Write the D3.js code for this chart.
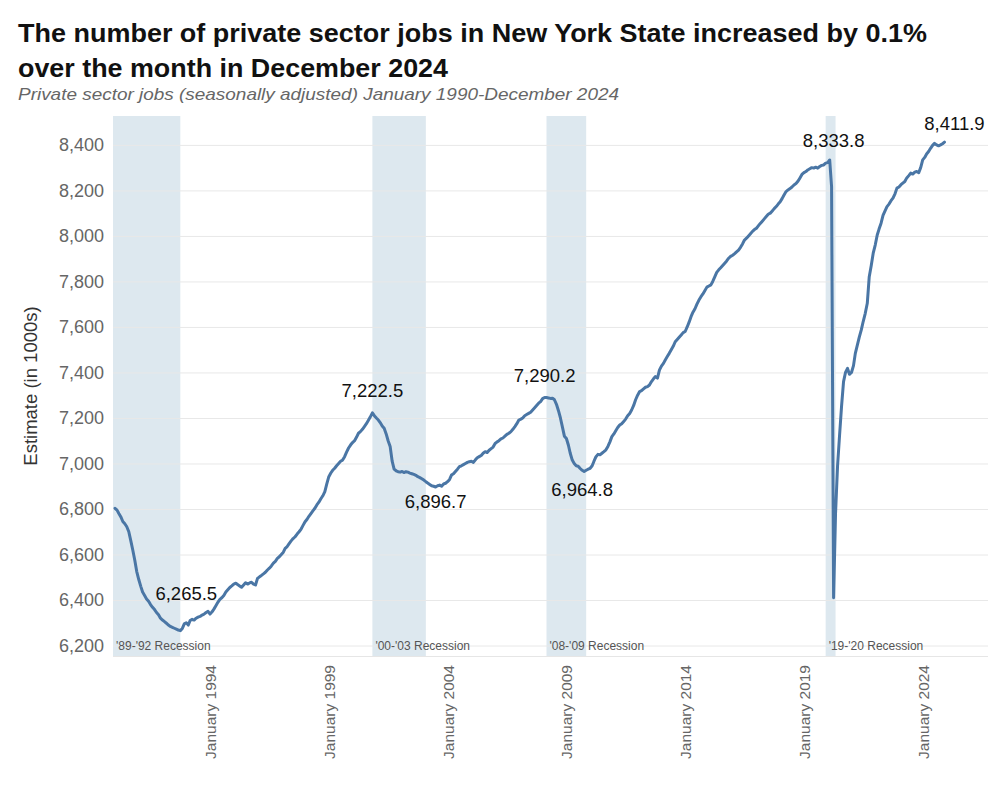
<!DOCTYPE html>
<html>
<head>
<meta charset="utf-8">
<script src="https://cdn.jsdelivr.net/npm/d3@7"></script>
<style>
  body { margin: 0; background: #fff; }
  svg { font-family: Arial, "Liberation Sans", sans-serif; }
</style>
</head>
<body>
<svg id="chart" width="1000" height="800"></svg>
<script>
// Monthly private sector jobs (thousands), Jan..Dec of each year
const y1990 = [6803, 6795, 6780, 6765, 6745, 6735, 6722, 6700, 6660, 6620, 6575, 6525];
const y1991 = [6490, 6460, 6435, 6420, 6405, 6395, 6380, 6368, 6358, 6345, 6335, 6320];
const y1992 = [6312, 6305, 6298, 6290, 6284, 6280, 6276, 6272, 6268, 6265.5, 6275, 6295];
const y1993 = [6300, 6290, 6310, 6315, 6312, 6320, 6325, 6328, 6334, 6338, 6345, 6350];
const y1994 = [6338, 6348, 6360, 6375, 6390, 6403, 6410, 6420, 6435, 6445, 6455, 6462];
const y1995 = [6470, 6474, 6468, 6462, 6456, 6466, 6476, 6470, 6475, 6478, 6470, 6466];
const y1996 = [6495, 6502, 6508, 6515, 6522, 6532, 6540, 6550, 6562, 6570, 6583, 6590];
const y1997 = [6600, 6610, 6627, 6635, 6648, 6660, 6670, 6678, 6690, 6700, 6712, 6728];
const y1998 = [6744, 6755, 6768, 6780, 6792, 6803, 6818, 6830, 6845, 6858, 6876, 6910];
const y1999 = [6942, 6958, 6970, 6979, 6990, 7000, 7010, 7015, 7030, 7050, 7068, 7081];
const y2000 = [7092, 7100, 7115, 7133, 7140, 7150, 7162, 7175, 7190, 7205, 7222.5, 7210];
const y2001 = [7200, 7191, 7180, 7165, 7155, 7130, 7100, 7075, 7010, 6975, 6968, 6964];
const y2002 = [6962, 6965, 6960, 6964, 6962, 6958, 6955, 6952, 6948, 6942, 6938, 6933];
const y2003 = [6927, 6920, 6914, 6908, 6902, 6900, 6896.7, 6902, 6905, 6900, 6910, 6913];
const y2004 = [6920, 6930, 6949, 6955, 6965, 6975, 6986, 6990, 6995, 7000, 7005, 7008];
const y2005 = [7010, 7005, 7015, 7025, 7030, 7035, 7045, 7052, 7048, 7058, 7065, 7072];
const y2006 = [7088, 7095, 7100, 7108, 7112, 7120, 7128, 7133, 7140, 7150, 7162, 7175];
const y2007 = [7191, 7195, 7200, 7210, 7215, 7220, 7225, 7235, 7245, 7255, 7265, 7272];
const y2008 = [7285, 7290.2, 7290, 7288, 7286, 7287, 7280, 7260, 7232, 7200, 7160, 7120];
const y2009 = [7110, 7080, 7045, 7015, 7000, 6990, 6988, 6978, 6970, 6964.8, 6970, 6975];
const y2010 = [6979, 6990, 7010, 7030, 7040, 7038, 7045, 7052, 7060, 7075, 7095, 7118];
const y2011 = [7130, 7145, 7158, 7169, 7175, 7185, 7195, 7210, 7220, 7235, 7255, 7280];
const y2012 = [7300, 7316, 7320, 7328, 7335, 7338, 7345, 7360, 7372, 7382, 7375, 7410];
const y2013 = [7428, 7440, 7455, 7470, 7484, 7500, 7515, 7535, 7545, 7555, 7565, 7575];
const y2014 = [7580, 7600, 7620, 7645, 7665, 7680, 7700, 7718, 7733, 7745, 7760, 7775];
const y2015 = [7780, 7785, 7800, 7820, 7840, 7851, 7860, 7870, 7880, 7890, 7902, 7910];
const y2016 = [7915, 7922, 7930, 7938, 7950, 7965, 7982, 7990, 8000, 8010, 8020, 8028];
const y2017 = [8034, 8045, 8055, 8065, 8075, 8085, 8095, 8100, 8110, 8120, 8129, 8140];
const y2018 = [8150, 8165, 8180, 8195, 8202, 8208, 8215, 8224, 8230, 8240, 8255, 8270];
const y2019 = [8278, 8283, 8290, 8295, 8300, 8298, 8302, 8298, 8305, 8310, 8312, 8320];
const y2020 = [8322, 8333.8, 8217, 6410, 6780, 6990, 7120, 7250, 7360, 7400, 7418, 7392];
const y2021 = [7400, 7430, 7484, 7520, 7555, 7587, 7625, 7660, 7704, 7821, 7870, 7924];
const y2022 = [7960, 8004, 8030, 8056, 8090, 8110, 8129, 8140, 8155, 8166, 8185, 8210];
const y2023 = [8215, 8225, 8232, 8239, 8255, 8265, 8276, 8272, 8280, 8283, 8278, 8300];
const y2024 = [8334, 8345, 8360, 8371, 8385, 8398, 8407, 8400, 8396, 8400, 8405, 8411.9];

const yearlySeries = [y1990, y1991, y1992, y1993, y1994, y1995, y1996, y1997, y1998, y1999,
  y2000, y2001, y2002, y2003, y2004, y2005, y2006, y2007, y2008, y2009,
  y2010, y2011, y2012, y2013, y2014, y2015, y2016, y2017, y2018, y2019,
  y2020, y2021, y2022, y2023, y2024];
const firstYear = 1990;

const recessionLabels = ["'89-'92 Recession", "'00-'03 Recession", "'08-'09 Recession", "'19-'20 Recession"];
const recessionStarts = ["1989-12", "2000-11", "2008-03", "2019-12"];
const recessionEnds   = ["1992-10", "2003-02", "2009-11", "2020-05"];

const annotDates  = ["1992-10", "2000-11", "2003-07", "2008-02", "2009-10", "2020-02", "2024-12"];
const annotValues = [6265.5, 7222.5, 6896.7, 7290.2, 6964.8, 8333.8, 8411.9];

const xTickYears = [1994, 1999, 2004, 2009, 2014, 2019, 2024];
const yTicks = [6200, 6400, 6600, 6800, 7000, 7200, 7400, 7600, 7800, 8000, 8200, 8400];

// ---- build data
const parseMonth = d3.timeParse("%Y-%m");
const data = [];
yearlySeries.forEach((arr, i) => {
  arr.forEach((v, m) => data.push({ date: new Date(firstYear + i, m, 1), value: v }));
});

const svg = d3.select("#chart");
const plot = { left: 113, right: 988, top: 116, bottom: 656 };

const x = d3.scaleTime()
  .domain([new Date(1989, 11, 1), new Date(2026, 9, 1)])
  .range([plot.left, plot.right]);
const y = d3.scaleLinear()
  .domain([6154, 8527])
  .range([plot.bottom, plot.top]);

// title
svg.append("text").attr("x", 18).attr("y", 42)
  .attr("font-size", 26).attr("font-weight", "bold").attr("fill", "#111")
  .attr("textLength", 909).attr("lengthAdjust", "spacingAndGlyphs")
  .text("The number of private sector jobs in New York State increased by 0.1%");
svg.append("text").attr("x", 18).attr("y", 77)
  .attr("font-size", 26).attr("font-weight", "bold").attr("fill", "#111")
  .attr("textLength", 430).attr("lengthAdjust", "spacingAndGlyphs")
  .text("over the month in December 2024");
svg.append("text").attr("x", 18).attr("y", 100)
  .attr("font-size", 17).attr("font-style", "italic").attr("fill", "#666")
  .attr("textLength", 601).attr("lengthAdjust", "spacingAndGlyphs")
  .text("Private sector jobs (seasonally adjusted) January 1990-December 2024");

// recession bands
const bands = svg.append("g");
recessionStarts.forEach((s, i) => {
  const x0 = Math.max(plot.left, x(parseMonth(s)));
  const x1 = x(parseMonth(recessionEnds[i]));
  bands.append("rect")
    .attr("x", x0).attr("y", plot.top)
    .attr("width", x1 - x0).attr("height", plot.bottom - plot.top)
    .attr("fill", "#dde8ef");
});

// gridlines
const yAxis = d3.axisLeft(y).tickValues(yTicks)
  .tickFormat(d3.format(",")).tickSize(-(plot.right - plot.left)).tickPadding(9);
const gy = svg.append("g").attr("transform", `translate(${plot.left},0)`).call(yAxis);
gy.select(".domain").remove();
gy.selectAll(".tick line").attr("stroke", "#e8e8e8").attr("stroke-width", 1);
gy.selectAll(".tick text").attr("font-size", 18).attr("fill", "#666")
  .attr("font-family", "Arial, 'Liberation Sans', sans-serif");

// bottom border line
svg.append("line").attr("x1", plot.left).attr("x2", plot.right)
  .attr("y1", plot.bottom + 0.5).attr("y2", plot.bottom + 0.5)
  .attr("stroke", "#e6e6e6");

// recession labels
recessionStarts.forEach((s, i) => {
  const x0 = Math.max(plot.left, x(parseMonth(s)));
  svg.append("text").attr("x", x0 + 3).attr("y", 650)
    .attr("font-size", 12).attr("fill", "#555")
    .text(recessionLabels[i]);
});

// x axis
const xAxis = d3.axisBottom(x)
  .tickValues(xTickYears.map(yr => new Date(yr, 0, 1)))
  .tickFormat(d3.timeFormat("January %Y")).tickSize(0).tickPadding(0);
const gx = svg.append("g").attr("transform", `translate(0,${plot.bottom})`).call(xAxis);
gx.select(".domain").remove();
gx.selectAll(".tick text")
  .attr("font-size", 15.5).attr("fill", "#666")
  .attr("font-family", "Arial, 'Liberation Sans', sans-serif")
  .attr("text-anchor", "end")
  .attr("transform", "rotate(-90)")
  .attr("x", -9).attr("y", 0).attr("dy", "0.35em");

// y axis title
svg.append("text")
  .attr("transform", `translate(37,${(plot.top + plot.bottom) / 2}) rotate(-90)`)
  .attr("text-anchor", "middle").attr("font-size", 18.5).attr("fill", "#333")
  .text("Estimate (in 1000s)");

// line
const line = d3.line().x(d => x(d.date)).y(d => y(d.value));
svg.append("path").datum(data)
  .attr("fill", "none").attr("stroke", "#4a76a5").attr("stroke-width", 3)
  .attr("stroke-linejoin", "round").attr("stroke-linecap", "round")
  .attr("d", line);

// annotations
const annotDx = [6, 0, 0, 0, -2, 4, 10];
const annotDy = [-31, -16, 21, -15, 25, -13, -12];
const fmt = d3.format(",.1f");
annotDates.forEach((s, i) => {
  svg.append("text")
    .attr("x", x(parseMonth(s)) + annotDx[i])
    .attr("y", y(annotValues[i]) + annotDy[i])
    .attr("text-anchor", "middle").attr("font-size", 18.5).attr("fill", "#111")
    .text(fmt(annotValues[i]));
});
</script>
</body>
</html>
